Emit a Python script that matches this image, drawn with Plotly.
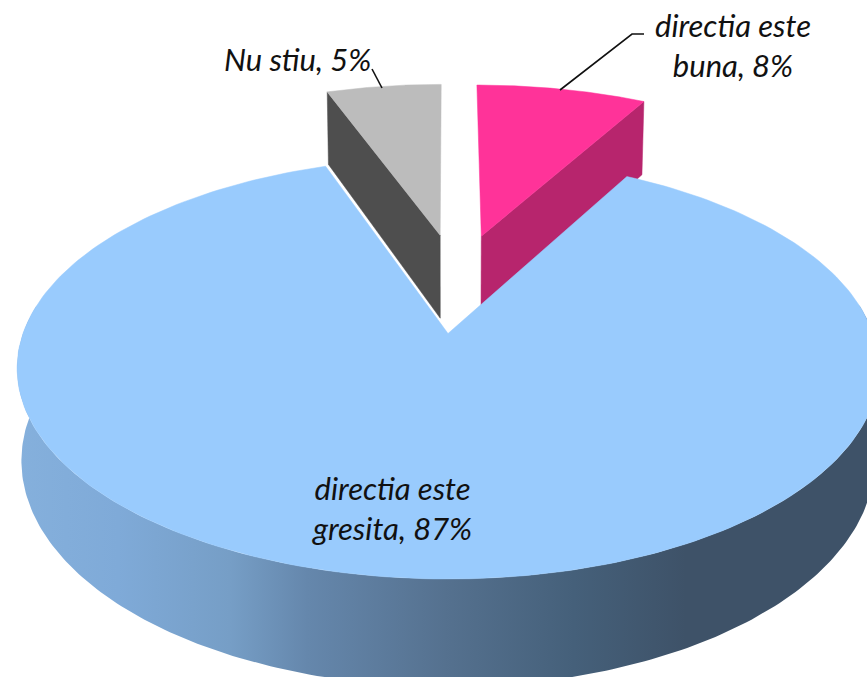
import numpy as np
import plotly.graph_objects as go

# Data
categories = ["directia este buna", "directia este gresita", "Nu stiu"]
values = [8, 86.6, 5.4]
label_lines = ["directia este<br>buna, 8%", "directia este<br>gresita, 87%", "Nu stiu, 5%"]

face_colors = ["#FF3399", "#99CBFD", "#BCBCBC"]
wall_colors = ["#B7256D", None, "#4E4E4E"]
# Offset of each slice in disc units (across, into the picture)
explode = [(0.085, 0.515), (0.0, 0.0), (-0.02, 0.52)]

# Perspective of the disc, in pixels
X0, Y0, A, B, K, T, S = 448, 333.5, 425, 205, 0.165, 90, 0.99


def project(u, v, lower=False):
    d = 1 + K * v
    s = S if lower else 1
    x = X0 + s * A * u / d
    y = Y0 - (B * v - (T if lower else 0)) / d
    return x, y


def arc(a0, a1, off=(0, 0), lower=False, n=240):
    t = np.radians(np.linspace(a0, a1, n))
    return project(off[0] + np.sin(t), off[1] + np.cos(t), lower)


def hub(off, lower=False):
    return project(np.array([off[0]]), np.array([off[1]]), lower)


fig = go.Figure()

# slice angles, clockwise from 12 o'clock
total = sum(values)
edges = np.concatenate([[0], np.cumsum(values)]) * 360 / total

# Walls and faces of the two pulled-out slices (behind the big slice)
for i in (0, 2):
    a0, a1 = edges[i], edges[i + 1]
    off = explode[i]
    cut = a1 if i == 0 else a0
    hx, hy = hub(off)
    hxl, hyl = hub(off, True)
    ex, ey = arc(cut, cut, off, n=1)
    exl, eyl = arc(cut, cut, off, True, n=1)
    fig.add_trace(go.Scatter(
        x=[hx[0], ex[0], exl[0], hxl[0], hx[0]],
        y=[hy[0], ey[0], eyl[0], hyl[0], hy[0]],
        mode="lines", fill="toself", fillcolor=wall_colors[i],
        line=dict(color=wall_colors[i], width=0.5), hoverinfo="skip"))
    ax, ay = arc(a0, a1, off)
    fig.add_trace(go.Scatter(
        x=np.r_[hx, ax, hx], y=np.r_[hy, ay, hy],
        mode="lines", fill="toself", fillcolor=face_colors[i],
        line=dict(color=face_colors[i], width=0.5),
        name=categories[i], hoverinfo="name"))

# Side wall of the big slice with its left-to-right shading
tx, ty = arc(82, 278)
bx, by = arc(82, 278, lower=True)
fig.add_trace(go.Scatter(
    x=np.r_[tx, bx[::-1], tx[:1]], y=np.r_[ty, by[::-1], ty[:1]],
    mode="lines", line=dict(width=0), fill="toself",
    fillgradient=dict(
        type="horizontal", start=15, stop=875,
        colorscale=[[0, "#85B0DC"], [0.12, "#7FAAD8"], [0.25, "#769EC6"],
                    [0.34, "#6587AC"], [0.5, "#55718F"], [0.65, "#45607A"],
                    [0.78, "#3E5268"], [1, "#3E5268"]]),
    hoverinfo="skip"))

# Face of the big slice
ax, ay = arc(edges[1], edges[2])
hx, hy = hub(explode[1])
fig.add_trace(go.Scatter(
    x=np.r_[hx, ax, hx], y=np.r_[hy, ay, hy],
    mode="lines", fill="toself", fillcolor=face_colors[1],
    line=dict(color=face_colors[1], width=0.5),
    name=categories[1], hoverinfo="name"))

# Leader lines
for lx, ly in (([560, 632, 644], [90, 34, 34]), ([372, 382], [69, 88])):
    fig.add_trace(go.Scatter(x=lx, y=ly, mode="lines",
                             line=dict(color="#111111", width=1.6), hoverinfo="skip"))

font = dict(family="Lato", size=31, color="#111111", style="italic")
for text, px, py in zip(label_lines, (733, 392, 297), (45, 508, 59)):
    fig.add_annotation(x=px, y=py, text=text, showarrow=False, font=font, align="center")

fig.update_layout(
    width=867, height=677, margin=dict(l=0, r=0, t=0, b=0),
    paper_bgcolor="white", plot_bgcolor="white", showlegend=False,
    xaxis=dict(range=[0, 867], visible=False, fixedrange=True),
    yaxis=dict(range=[677, 0], visible=False, fixedrange=True),
)
fig.write_html("out.html", post_script="document.body.style.margin='0';", config={"displayModeBar": False})
